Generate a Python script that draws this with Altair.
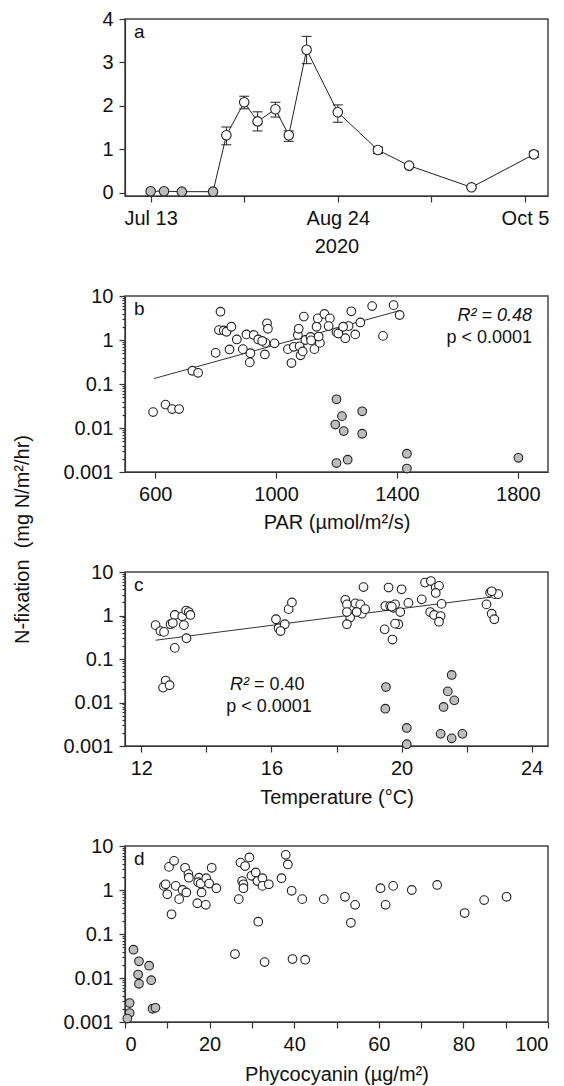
import altair as alt
import pandas as pd

FONT = "Liberation Sans"
OPEN_FILL = "white"
GRAY_FILL = "#bdbdbd"
EDGE = "#222222"

# ---------------- panel a: time series ----------------
a_dates = ["2020-07-13", "2020-07-16", "2020-07-20", "2020-07-27", "2020-07-30",
           "2020-08-03", "2020-08-06", "2020-08-10", "2020-08-13", "2020-08-17",
           "2020-08-24", "2020-09-02", "2020-09-09", "2020-09-23", "2020-10-07"]
a_mean = [0.03, 0.03, 0.02, 0.02, 1.32, 2.08, 1.64, 1.92, 1.32, 3.29, 1.85, 0.98, 0.62, 0.12, 0.88]
a_lo = [0.03, 0.03, 0.02, 0.02, 1.10, 1.93, 1.42, 1.74, 1.18, 2.97, 1.62, 0.90, 0.58, 0.10, 0.81]
a_hi = [0.03, 0.03, 0.02, 0.02, 1.51, 2.22, 1.86, 2.08, 1.42, 3.60, 2.02, 1.05, 0.66, 0.14, 0.95]
a_zero = [True, True, True, True] + [False] * 11

# ---------------- panel b: PAR ----------------
b_open_par = [816, 811, 827, 836, 852, 800, 846, 870, 890, 902, 915, 913, 926, 941, 963,
              970, 973, 965, 995, 1039, 1051, 1059, 1072, 1075, 1081, 1078, 1092, 1097, 1114, 1127,
              1134, 1138, 1145, 1160, 1178, 1174, 1200, 1229, 1240, 1249, 1262, 1279, 1318, 1354, 1389,
              1409, 723, 742, 593, 634, 656, 679, 954, 1116, 1141, 1206, 1222, 1088]
b_open_nfix = [4.4, 1.68, 1.65, 1.54, 2.0, 0.51, 0.61, 1.03, 0.62, 1.34, 0.5, 0.31, 1.3, 1.03, 0.47,
               2.4, 1.8, 0.86, 0.84, 0.62, 0.30, 0.70, 1.3, 1.8, 0.45, 0.72, 3.4, 1.0, 1.17, 0.62,
               2.0, 3.1, 0.86, 3.9, 3.1, 2.07, 1.49, 1.1, 2.07, 4.5, 1.34, 2.5, 5.9, 1.24, 6.2,
               3.7, 0.20, 0.18, 0.023, 0.034, 0.027, 0.027, 0.95, 0.98, 1.2, 1.4, 2.0, 0.55]
b_gray_par = [1200, 1218, 1196, 1224, 1285, 1285, 1200, 1237, 1433, 1433, 1802]
b_gray_nfix = [0.045, 0.0186, 0.012, 0.0085, 0.024, 0.0074, 0.0016, 0.0019, 0.0026, 0.0012, 0.0021]
b_fit_par = [596, 1406]
b_fit_nfix = [0.133, 4.6]

# ---------------- panel c: temperature ----------------
c_open_t = [12.44, 12.59, 12.70, 12.90, 13.03, 12.97, 13.26, 13.31, 13.38, 13.46, 13.51, 13.39, 13.03, 12.75, 12.67, 12.87,
            16.14, 16.22, 16.41, 16.28, 16.53, 16.63,
            18.27, 18.32, 18.42, 18.32, 18.58, 18.73, 18.78, 18.88, 18.83, 18.32, 18.62,
            19.50, 19.60, 19.65, 19.75, 19.80, 19.96, 19.90, 19.80, 20.00, 19.48, 19.72, 20.21, 19.70,
            20.62, 20.72, 20.90, 21.05, 21.15, 21.05, 21.23, 20.88, 21.00, 21.20, 21.15,
            22.72, 22.87, 22.97, 22.61, 22.77, 22.85, 22.77]
c_open_nfix = [0.60, 0.44, 0.42, 0.63, 1.03, 0.67, 0.96, 0.60, 1.3, 1.2, 1.03, 0.30, 0.18, 0.032, 0.022, 0.025,
               0.82, 0.51, 0.63, 0.44, 1.4, 2.0,
               2.3, 1.8, 0.9, 0.63, 1.9, 1.8, 1.1, 1.4, 4.5, 1.2, 1.2,
               1.65, 4.4, 1.65, 1.5, 1.8, 1.2, 0.63, 0.65, 4.0, 0.48, 0.28, 1.95, 1.6,
               2.35, 5.7, 6.2, 4.4, 4.8, 3.3, 1.85, 1.2, 1.03, 0.97, 0.72,
               3.35, 3.1, 3.1, 1.8, 1.1, 0.82, 3.6]
c_gray_t = [19.52, 19.50, 20.16, 20.16, 21.54, 21.42, 21.62, 21.29, 21.20, 21.54, 21.87]
c_gray_nfix = [0.0227, 0.0072, 0.0026, 0.0011, 0.043, 0.018, 0.0112, 0.0079, 0.0019, 0.0015, 0.0019]
c_fit_t = [12.44, 22.77]
c_fit_nfix = [0.27, 2.66]

# ---------------- panel d: phycocyanin ----------------
d_open_pc = [9.2, 9.6, 10.0, 10.4, 11.6, 11.0, 12.0, 12.8, 13.6, 14.5, 14.2, 15.0, 15.1, 17.1, 17.5, 17.3, 18.1, 17.9,
             19.1, 19.2, 19.9, 20.5, 21.6,
             26.9, 27.3, 27.7, 28.0, 28.4, 29.4, 29.9, 28.0, 30.9, 31.3, 32.5, 32.5, 34.0, 31.5, 37.0, 38.0, 38.5,
             39.4, 41.9, 47.0, 52.0, 54.4, 53.4, 60.4, 61.6, 63.4, 67.8, 73.8, 80.3, 84.9, 90.2, 26.0, 33.0, 39.6, 42.6]
d_open_nfix = [1.24, 1.35, 0.8, 3.35, 4.6, 0.28, 1.24, 0.62, 1.0, 0.88, 3.2, 2.3, 1.9, 0.5, 1.9, 1.5, 0.88, 1.4,
               0.46, 1.85, 1.4, 3.2, 1.1,
               0.62, 4.2, 1.6, 1.35, 3.5, 5.5, 2.1, 1.1, 2.5, 1.6, 1.85, 1.24, 1.35, 0.19, 1.85, 6.3, 3.8,
               0.96, 0.62, 0.62, 0.7, 0.46, 0.18, 1.1, 0.46, 1.24, 1.0, 1.3, 0.30, 0.59, 0.7, 0.035, 0.023, 0.027, 0.026]
d_gray_pc = [2.0, 3.3, 3.1, 3.3, 5.7, 6.2, 1.1, 1.1, 0.55, 6.5, 7.2]
d_gray_nfix = [0.044, 0.024, 0.012, 0.0074, 0.019, 0.0089, 0.0027, 0.0016, 0.0012, 0.002, 0.0021]

# ---------------- tick labels ----------------
a_tick_dates = [(7, 13), (8, 3), (8, 24), (9, 14), (10, 5)]
a_labelled = ["Jul 13", "Aug 24", "Oct 5"]
log_ticks = [m * 10.0 ** e for e in (-3, -2, -1, 0) for m in range(1, 10)] + [10.0]
b_ticks = [600, 1000, 1400, 1800]
c_ticks = [12, 14, 16, 18, 20, 22, 24]
d_ticks = [0, 10, 20, 30, 40, 50, 60, 70, 80, 90, 100]

W = 423

IS_DECADE = "abs(log(datum.value)/LN10 - round(log(datum.value)/LN10)) < 1e-6"


def log_y(title=None, **kw):
    return alt.Y("nfix:Q",
                 scale=alt.Scale(type="log", domain=[0.001, 10], nice=False),
                 axis=alt.Axis(values=log_ticks,
                               labelExpr=f"{IS_DECADE} ? format(datum.value, '~g') : ''",
                               tickSize={"condition": {"test": IS_DECADE, "value": 6}, "value": 3},
                               title=title, **kw))


def one_row(txt):
    return alt.Chart(pd.DataFrame({"t": [txt]}))


def panel_letter(letter):
    return one_row(letter).mark_text(align="left", baseline="middle", fontSize=19, font=FONT,
                                     color="#111").encode(x=alt.value(9), y=alt.value(13), text="t:N")


def pts(df, fill, size=75):
    return alt.Chart(df).mark_point(shape="circle", filled=True, fill=fill, stroke=EDGE,
                                    strokeWidth=1.1, size=size, opacity=1)


# ---- panel a ----
dfa = pd.DataFrame({"date": a_dates, "nfix": a_mean, "lo": a_lo, "hi": a_hi, "zero": a_zero})
xa = alt.X("date:T",
           scale=alt.Scale(type="utc", domain=[alt.DateTime(year=2020, month=7, date=7, hours=6, utc=True),
                                               alt.DateTime(year=2020, month=10, date=10, hours=4, utc=True)]),
           axis=alt.Axis(values=[alt.DateTime(year=2020, month=m, date=d, utc=True) for m, d in a_tick_dates],
                         labelExpr="indexof(" + str(a_labelled) + ", utcFormat(datum.value, '%b %-d')) >= 0 ? utcFormat(datum.value, '%b %-d') : ''",
                         title="2020", titlePadding=8, tickSize=6))
ya = alt.Y("nfix:Q", scale=alt.Scale(domain=[-0.08, 4], nice=False, zero=False),
           axis=alt.Axis(values=[0, 0.5, 1, 1.5, 2, 2.5, 3, 3.5, 4],
                         labelExpr="datum.value % 1 == 0 ? format(datum.value, 'd') : ''",
                         tickSize={"condition": {"test": "datum.value % 1 == 0", "value": 6}, "value": 3},
                         title=None))
base_a = alt.Chart(dfa)
line_a = base_a.mark_line(color=EDGE, strokeWidth=1).encode(x=xa, y=ya)
err_a = base_a.transform_filter("!datum.zero").mark_rule(color=EDGE, strokeWidth=1).encode(
    x="date:T", y="lo:Q", y2="hi:Q")
cap_hi = base_a.transform_filter("!datum.zero").mark_rule(color=EDGE, strokeWidth=1, xOffset=-5, x2Offset=5).encode(
    x="date:T", x2="date:T", y="hi:Q")
cap_lo = base_a.transform_filter("!datum.zero").mark_rule(color=EDGE, strokeWidth=1, xOffset=-5, x2Offset=5).encode(
    x="date:T", x2="date:T", y="lo:Q")
pts_a_open = base_a.transform_filter("!datum.zero").mark_point(
    shape="circle", filled=True, fill=OPEN_FILL, stroke=EDGE, strokeWidth=1.1, size=90, opacity=1).encode(x="date:T", y="nfix:Q")
pts_a_gray = base_a.transform_filter("datum.zero").mark_point(
    shape="circle", filled=True, fill=GRAY_FILL, stroke=EDGE, strokeWidth=1.1, size=90, opacity=1).encode(x="date:T", y="nfix:Q")
pa = alt.layer(line_a, err_a, cap_hi, cap_lo, pts_a_open, pts_a_gray, panel_letter("a")).properties(width=W, height=177)

# ---- panel b ----
xb = alt.X("x:Q", scale=alt.Scale(domain=[500, 1900], nice=False, zero=False),
           axis=alt.Axis(values=b_ticks, title="PAR (µmol/m²/s)", titlePadding=8, format="d"))
dfb_o = pd.DataFrame({"x": b_open_par, "nfix": b_open_nfix})
dfb_g = pd.DataFrame({"x": b_gray_par, "nfix": b_gray_nfix})
dfb_f = pd.DataFrame({"x": b_fit_par, "nfix": b_fit_nfix})
fit_b = alt.Chart(dfb_f).mark_line(color="#333", strokeWidth=1).encode(
    x=xb, y=log_y(title="N-fixation\u00a0 (mg N/m²/hr)", titleY=243, titlePadding=30))
pb = alt.layer(
    fit_b,
    pts(dfb_o, OPEN_FILL).encode(x="x:Q", y="nfix:Q"),
    pts(dfb_g, GRAY_FILL).encode(x="x:Q", y="nfix:Q"),
    panel_letter("b"),
    one_row("R² = 0.48").mark_text(align="right", baseline="middle", fontSize=18, font=FONT, fontStyle="italic",
                                   color="#111").encode(x=alt.value(407), y=alt.value(20), text="t:N"),
    one_row("p < 0.0001").mark_text(align="right", baseline="middle", fontSize=18, font=FONT,
                                    color="#111").encode(x=alt.value(407), y=alt.value(42), text="t:N"),
).properties(width=W, height=176)

# ---- panel c ----
xc = alt.X("x:Q", scale=alt.Scale(domain=[11.5, 24.5], nice=False, zero=False),
           axis=alt.Axis(values=c_ticks, labelExpr="datum.value % 4 == 0 ? datum.label : ''",
                         title="Temperature (°C)", titlePadding=9))
dfc_o = pd.DataFrame({"x": c_open_t, "nfix": c_open_nfix})
dfc_g = pd.DataFrame({"x": c_gray_t, "nfix": c_gray_nfix})
dfc_f = pd.DataFrame({"x": c_fit_t, "nfix": c_fit_nfix})
pc = alt.layer(
    alt.Chart(dfc_f).mark_line(color="#333", strokeWidth=1).encode(x=xc, y=log_y()),
    pts(dfc_o, OPEN_FILL).encode(x="x:Q", y="nfix:Q"),
    pts(dfc_g, GRAY_FILL).encode(x="x:Q", y="nfix:Q"),
    panel_letter("c"),
    one_row("R²").mark_text(align="right", baseline="middle", fontSize=18, font=FONT, fontStyle="italic",
                            color="#111").encode(x=alt.value(124), y=alt.value(113), text="t:N"),
    one_row("= 0.40").mark_text(align="left", baseline="middle", fontSize=18, font=FONT,
                                color="#111").encode(x=alt.value(129), y=alt.value(113), text="t:N"),
    one_row("p < 0.0001").mark_text(align="center", baseline="middle", fontSize=18, font=FONT,
                                    color="#111").encode(x=alt.value(144), y=alt.value(135), text="t:N"),
).properties(width=W, height=174)

# ---- panel d ----
xd = alt.X("x:Q", scale=alt.Scale(domain=[0, 100], nice=False, zero=False),
           axis=alt.Axis(values=d_ticks, labelExpr="datum.value % 20 == 0 ? datum.label : ''",
                         title="Phycocyanin (µg/m²)", titlePadding=10))
dfd_o = pd.DataFrame({"x": d_open_pc, "nfix": d_open_nfix})
dfd_g = pd.DataFrame({"x": d_gray_pc, "nfix": d_gray_nfix})
pdd = alt.layer(
    pts(dfd_o, OPEN_FILL).encode(x=xd, y=log_y()),
    pts(dfd_g, GRAY_FILL).encode(x="x:Q", y="nfix:Q"),
    panel_letter("d"),
).properties(width=W, height=176)

chart = alt.vconcat(pa, pb, pc, pdd, spacing=100, bounds="flush").properties(
    padding={"left": 4, "top": 0, "right": 5, "bottom": 5}
).configure_axis(
    labelFont=FONT, labelFontSize=20, labelColor="#111",
    titleFont=FONT, titleFontSize=20, titleFontWeight="normal", titleColor="#111",
    domainColor="#333", domainWidth=1.2, tickColor="#333", tickWidth=1.2,
    grid=False, labelPadding=6, tickSize=6,
).configure_view(stroke="#444", strokeWidth=1.5)

chart.save("out.html", embed_options={"renderer": "svg", "actions": False})
